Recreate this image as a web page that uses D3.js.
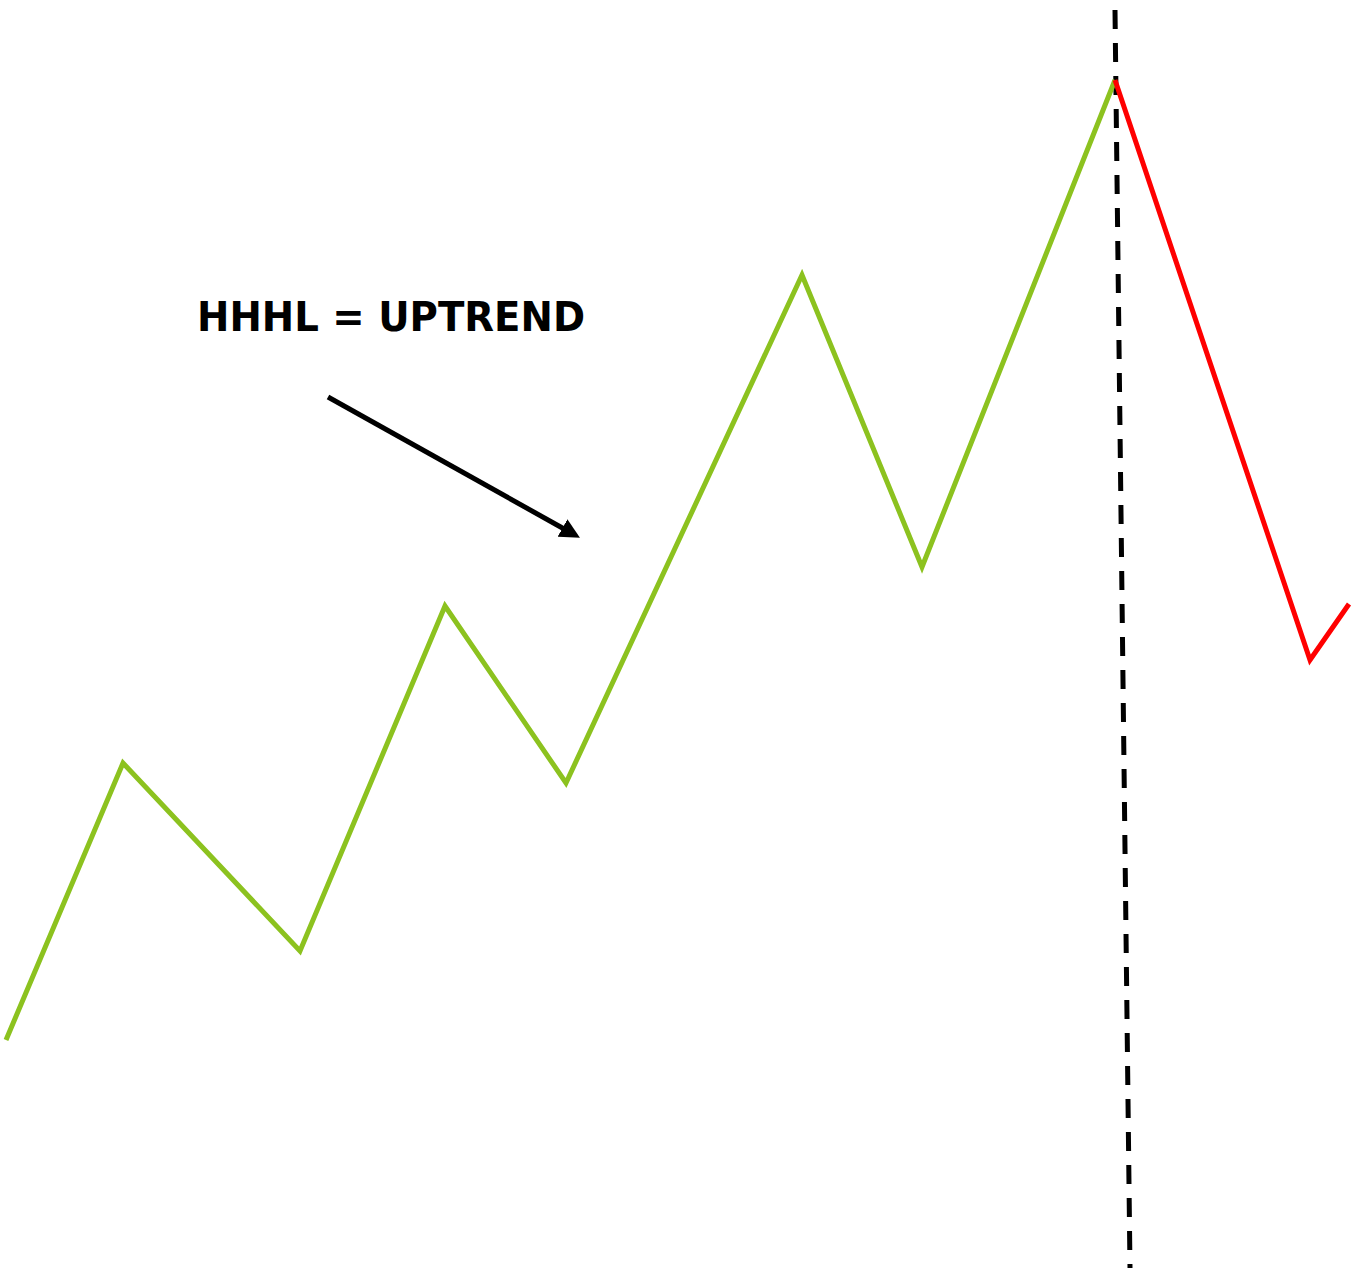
<!DOCTYPE html>
<html>
<head>
<meta charset="utf-8">
<script src="https://d3js.org/d3.v7.min.js"></script>
<style>
body { margin: 0; background: #fff; }
</style>
</head>
<body>
<div id="chart"></div>
<script>
var width = 1357;
var height = 1276;

// swing points (x position, price level)
var upX = [6, 123, 300, 445, 566, 802, 922, 1115];
var upY = [236, 513, 325, 670, 493, 1001, 709, 1196];
var downX = [1115, 1310, 1349];
var downY = [1196, 616, 672];
var breakLine = [[1115, 1266], [1130, 8]];
var label = "HHHL = UPTREND";

var svg = d3.select("#chart").append("svg")
  .attr("width", width)
  .attr("height", height);

var x = d3.scaleLinear().domain([0, width]).range([0, width]);
var y = d3.scaleLinear().domain([0, height]).range([height, 0]);

var line = d3.line()
  .x(function (d) { return x(d[0]); })
  .y(function (d) { return y(d[1]); });

svg.append("defs").append("marker")
  .attr("id", "arrow")
  .attr("viewBox", "0 0 10 10")
  .attr("refX", 2)
  .attr("refY", 5)
  .attr("markerWidth", 4)
  .attr("markerHeight", 4)
  .attr("orient", "auto")
  .attr("markerUnits", "strokeWidth")
  .append("path")
  .attr("d", "M0,0 L10,5 L0,10 z")
  .attr("fill", "#000");

// dashed break line
svg.append("path")
  .attr("d", line(breakLine))
  .attr("fill", "none")
  .attr("stroke", "#000")
  .attr("stroke-width", 5)
  .attr("stroke-dasharray", "19,14");

svg.append("path")
  .attr("d", line(d3.zip(upX, upY)))
  .attr("fill", "none")
  .attr("stroke", "#8cc21f")
  .attr("stroke-width", 5);

svg.append("path")
  .attr("d", line(d3.zip(downX, downY)))
  .attr("fill", "none")
  .attr("stroke", "#ff0000")
  .attr("stroke-width", 5);

svg.append("text")
  .attr("x", 391)
  .attr("y", 331)
  .attr("text-anchor", "middle")
  .style("font-family", "DejaVu Sans")
  .style("font-weight", "bold")
  .style("font-size", "40px")
  .attr("textLength", 388)
  .attr("lengthAdjust", "spacingAndGlyphs")
  .text(label);

svg.append("line")
  .attr("x1", 328).attr("y1", 397)
  .attr("x2", 566).attr("y2", 530)
  .attr("stroke", "#000")
  .attr("stroke-width", 5)
  .attr("marker-end", "url(#arrow)");
</script>
</body>
</html>
